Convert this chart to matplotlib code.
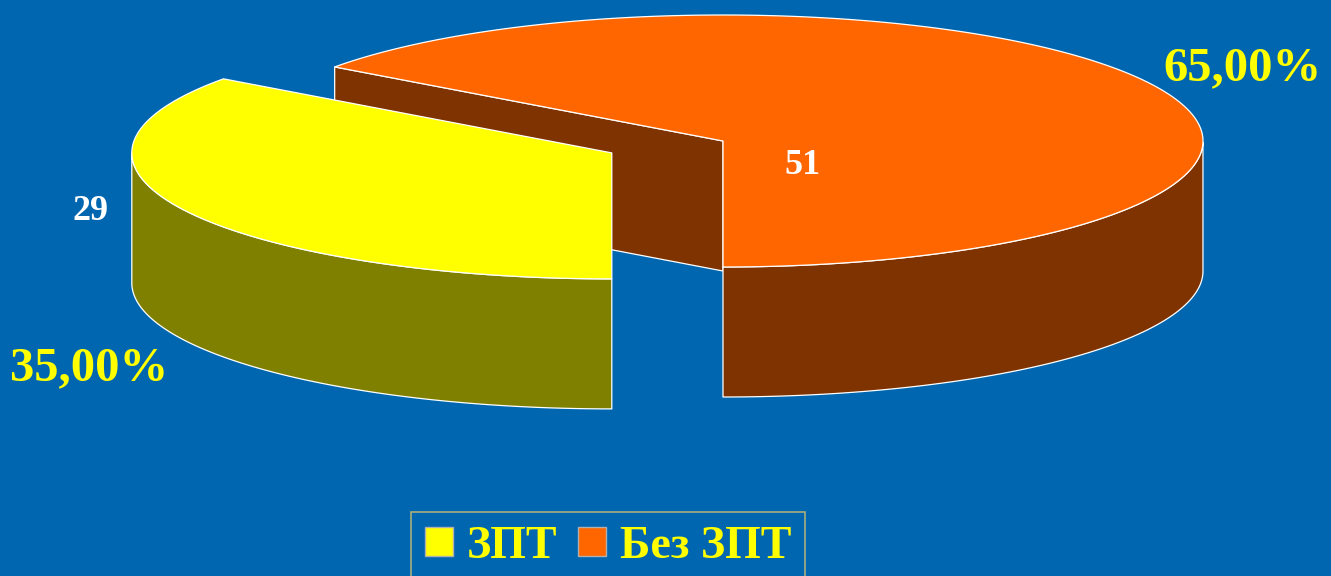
import numpy as np
import matplotlib
matplotlib.use("Agg")
import matplotlib.pyplot as plt
from matplotlib.patches import Polygon, Patch

# data
labels = ["ЗПТ", "Без ЗПТ"]
counts = [29, 51]
shares = [35.0, 65.0]
top_colors = ["#ffff00", "#ff6600"]
side_colors = ["#808000", "#7f3300"]
explode = [0.26, 0.0]

BG = "#0066b0"
W, H = 1331, 576

# pie geometry in pixel space
cx, cy = 723, 141
a, b = 480, 126
depth = 130
start = 144.0  # degrees, first slice starts here, counter-clockwise


def pt(c, t, dz=0):
    return c[0] + a * np.cos(t), c[1] - b * np.sin(t) + dz


def draw_slice(ax, t1, t2, top, side, exp):
    mid = (t1 + t2) / 2
    c = (cx + exp * a * np.cos(mid), cy - exp * b * np.sin(mid) * 0.8)
    ts = np.linspace(t1, t2, 200)
    rx, ry = pt(c, ts)
    kw = dict(edgecolor="white", linewidth=0.9, joinstyle="round")

    # cut faces
    for ang, sgn in ((t1, 1), (t2, -1)):
        if sgn * np.cos(ang) > 1e-6:
            x, y = pt(c, ang)
            ax.add_patch(Polygon([c, (x, y), (x, y + depth), (c[0], c[1] + depth)],
                                 closed=True, facecolor=side, **kw))

    # outer wall (front half only)
    vis = np.sin(ts) <= 0
    if vis.any():
        wx, wy = rx[vis], ry[vis]
        poly = list(zip(wx, wy)) + list(zip(wx[::-1], wy[::-1] + depth))
        ax.add_patch(Polygon(poly, closed=True, facecolor=side, **kw))

    # top face
    poly = [c] + list(zip(rx, ry))
    ax.add_patch(Polygon(poly, closed=True, facecolor=top, **kw))


fig = plt.figure(figsize=(W / 100, H / 100), dpi=100, facecolor=BG)
ax = fig.add_axes([0, 0, 1, 1])
ax.set_facecolor(BG)
ax.set_xlim(0, W)
ax.set_ylim(H, 0)
ax.axis("off")

# slice angles
angs = []
t = np.radians(start)
for s in shares:
    dt = np.radians(s / sum(shares) * 360)
    angs.append((t, t + dt))
    t += dt

# back slices first
order = sorted(range(len(shares)), key=lambda i: -np.sin(sum(angs[i]) / 2))
for i in order:
    draw_slice(ax, angs[i][0], angs[i][1], top_colors[i], side_colors[i], explode[i])

serif = ["Liberation Serif", "DejaVu Serif"]
# count labels
ax.text(90, 211, str(counts[0]), color="white", fontsize=26, fontweight="bold",
        family=serif, ha="center", va="center")
ax.text(802, 165, str(counts[1]), color="white", fontsize=26, fontweight="bold",
        family=serif, ha="center", va="center")
# percent labels
ax.text(89, 368, f"{shares[0]:.2f}%".replace(".", ","), color="#ffff00", fontsize=35,
        fontweight="bold", family=serif, ha="center", va="center")
ax.text(1242, 68, f"{shares[1]:.2f}%".replace(".", ","), color="#ffff00", fontsize=35,
        fontweight="bold", family=serif, ha="center", va="center")

handles = [Patch(facecolor=c, edgecolor="#b0b0b0", linewidth=1) for c in top_colors]
leg = fig.legend(handles, labels, loc="upper center", bbox_to_anchor=(608 / W, 1 - 512 / H),
                 ncol=2, frameon=True, fancybox=False, facecolor=BG, edgecolor="#d0c070",
                 prop={"family": serif, "weight": "bold", "size": 33},
                 handlelength=0.62, handleheight=0.62, handletextpad=0.3,
                 columnspacing=0.45, borderpad=0.3, borderaxespad=0)
leg.get_frame().set_linewidth(1.2)
for txt in leg.get_texts():
    txt.set_color("#ffff00")

fig.savefig("out.png", dpi=100, facecolor=BG)
